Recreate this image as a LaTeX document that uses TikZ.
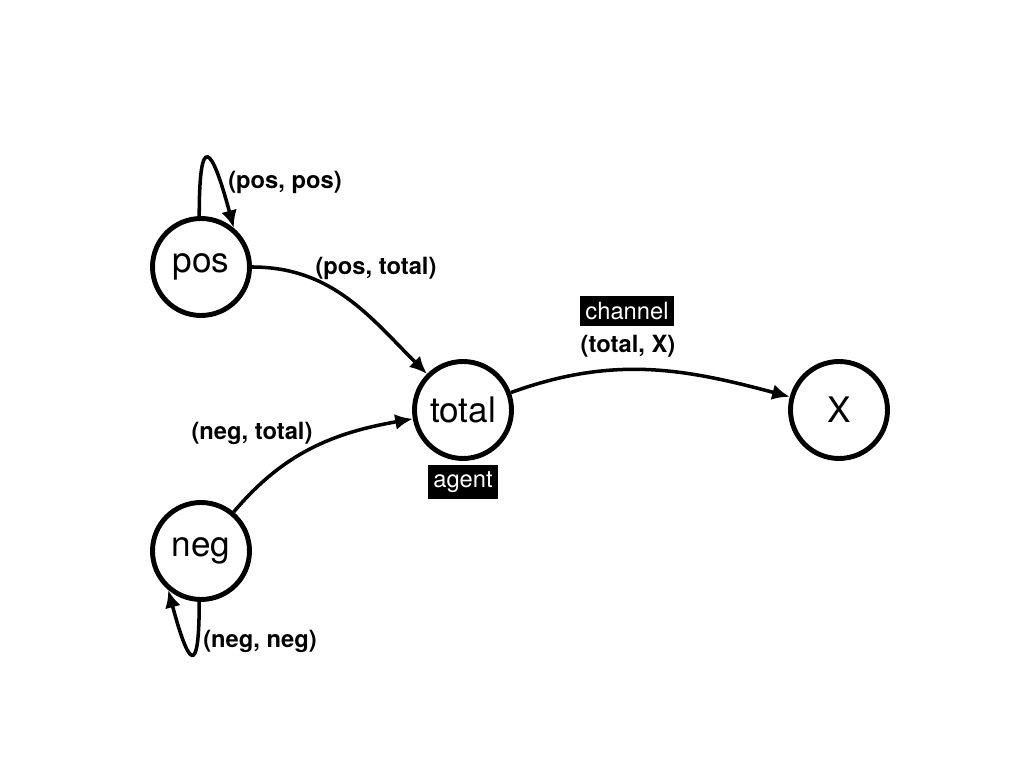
\documentclass[tikz,border=0pt]{standalone}
\usepackage{fontspec}
\setmainfont{TeX Gyre Heros}
\usetikzlibrary{calc,arrows.meta}
\begin{document}
\begin{tikzpicture}
\tikzset{vertex/.style = {shape=circle,draw,line width=2.8pt,minimum size=1.94cm,inner sep=0pt,font=\fontsize{20}{24}\selectfont}}
\tikzset{edge/.style = {->,> = {Latex[length=10pt,width=9pt]},line width=2pt}}
\tikzset{lbl/.style = {font=\fontsize{13.5}{16}\selectfont\bfseries}}
\tikzset{tag/.style = {fill=black,text=white,inner xsep=3pt,inner ysep=3.5pt,font=\fontsize{13.5}{16}\selectfont}}
\useasboundingbox (0,0) rectangle (20.48,15.36);
\node[vertex] (pos) at (4.02,10.02) {pos};
\node[vertex] (total) at (9.26,7.16) {total};
\node[vertex] (x) at (16.78,7.16) {X};
\node[vertex] (neg) at (4.02,4.34) {neg};
\node[tag] (agent) at (9.26,5.72) {agent};
\node[tag] (channel) at (12.54,9.14) {channel};
\draw[edge] (pos) to[out=0,in=135] (total);
\draw[edge] (neg) to[out=50,in=190] (total);
\draw[edge] (total) to[out=20,in=165] (x);
\draw[edge] (pos.92) to[out=90,in=105,looseness=6] (pos.50);
\draw[edge] (neg.268) to[out=270,in=285,looseness=6] (neg.230);
\node[lbl] (lpp) at (5.70,11.72) {(pos, pos)};
\node[lbl] (lpt) at (7.52,10.0) {(pos, total)};
\node[lbl] (ltx) at (12.56,8.44) {(total, X)};
\node[lbl] (lnt) at (5.04,6.70) {(neg, total)};
\node[lbl] (lnn) at (5.20,2.54) {(neg, neg)};
\end{tikzpicture}
\end{document}
